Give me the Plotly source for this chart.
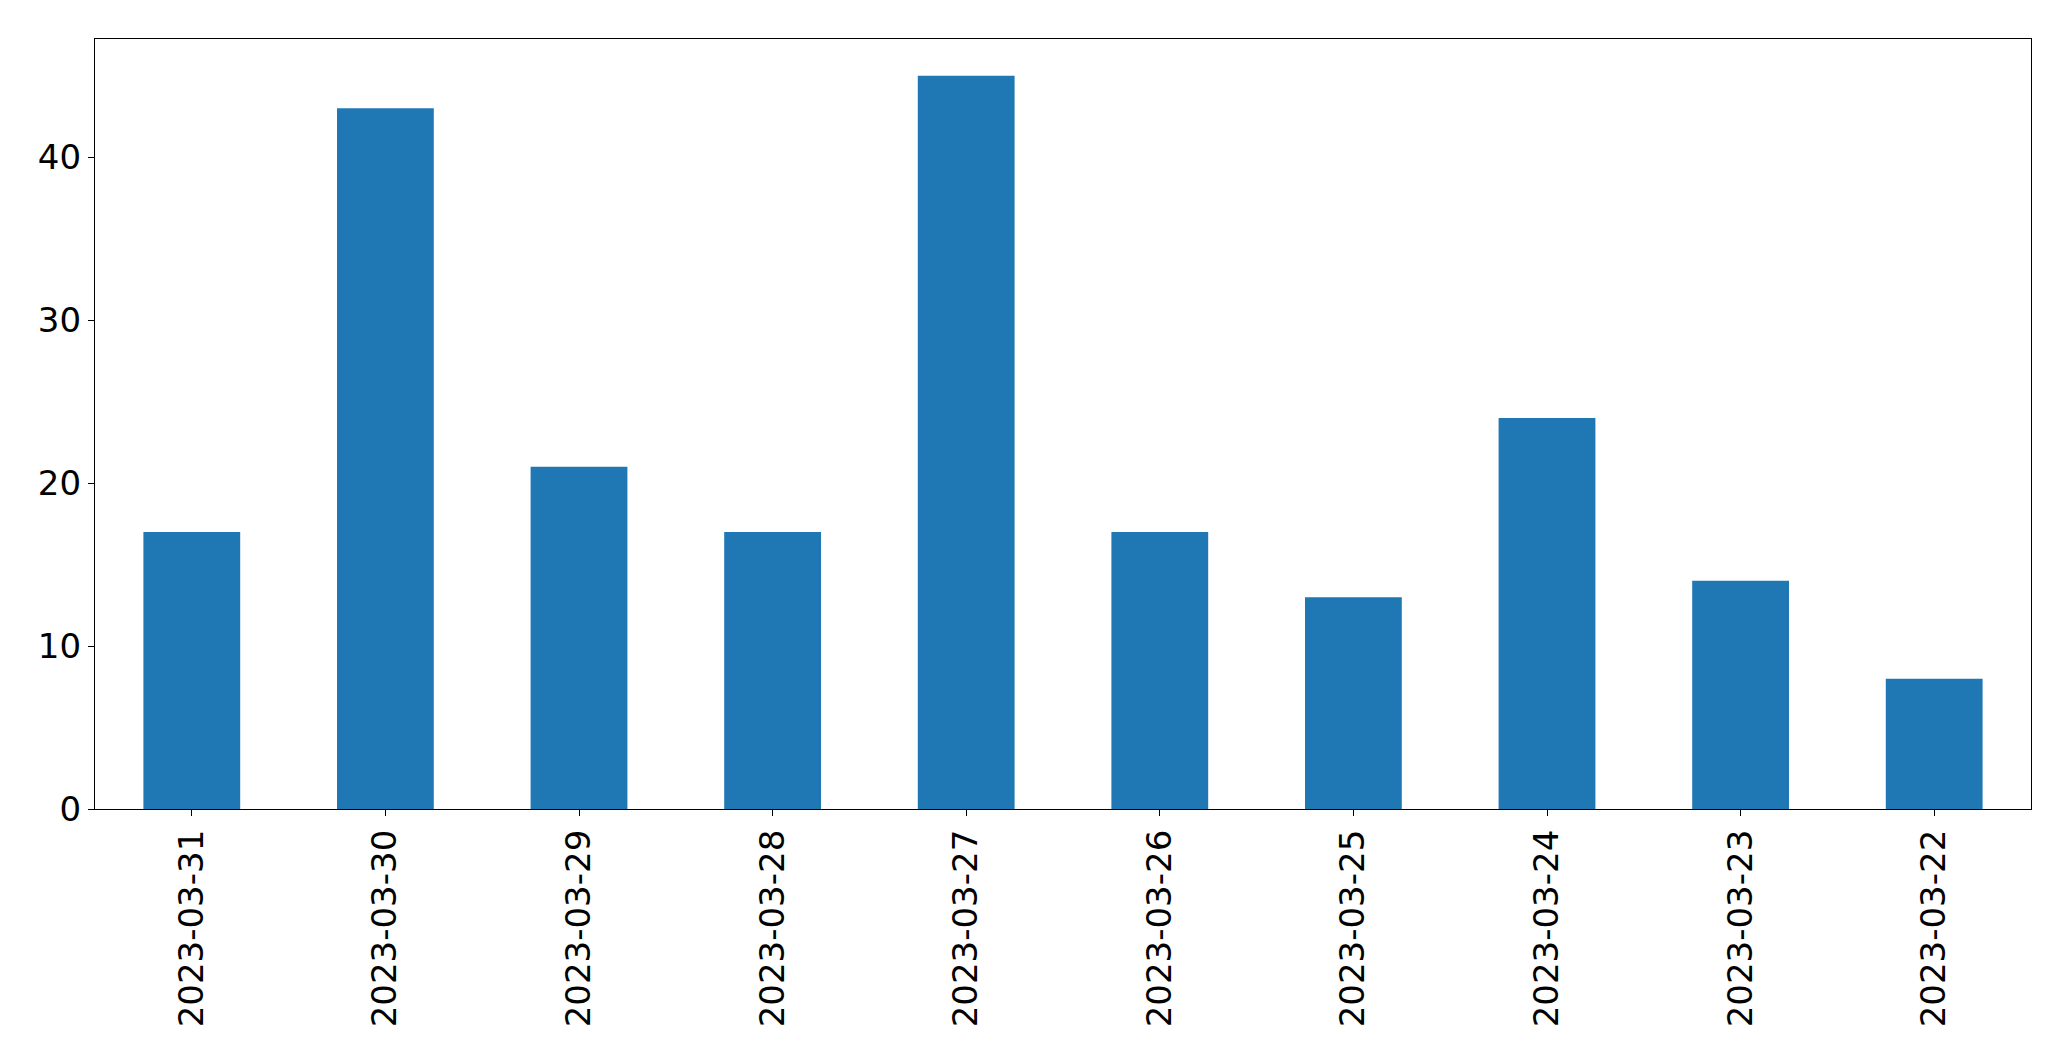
import plotly.graph_objects as go

dates = ["2023-03-31", "2023-03-30", "2023-03-29", "2023-03-28", "2023-03-27",
         "2023-03-26", "2023-03-25", "2023-03-24", "2023-03-23", "2023-03-22"]
counts = [17, 43, 21, 17, 45, 17, 13, 24, 14, 8]

fig = go.Figure(go.Bar(x=dates, y=counts, marker=dict(color="#1f77b4", line=dict(width=0)), width=0.5))

fig.update_layout(
    width=2071, height=1061,
    margin=dict(l=95, r=40, t=39, b=252),
    plot_bgcolor="white", paper_bgcolor="white",
    font=dict(family="DejaVu Sans", size=34, color="black"),
    showlegend=False,
)
fig.update_xaxes(
    type="category", range=[-0.5, 9.5], tickangle=-90,
    showline=True, linecolor="black", linewidth=1.3, mirror=True,
    ticks="outside", ticklen=6, tickwidth=1.3, tickcolor="black",
    showgrid=False, zeroline=False,
)
fig.update_yaxes(
    range=[0, 47.25], tickvals=[0, 10, 20, 30, 40],
    showline=True, linecolor="black", linewidth=1.3, mirror=True,
    ticks="outside", ticklen=6, tickwidth=1.3, tickcolor="black",
    showgrid=False, zeroline=False,
)
fig.write_html("out.html")
